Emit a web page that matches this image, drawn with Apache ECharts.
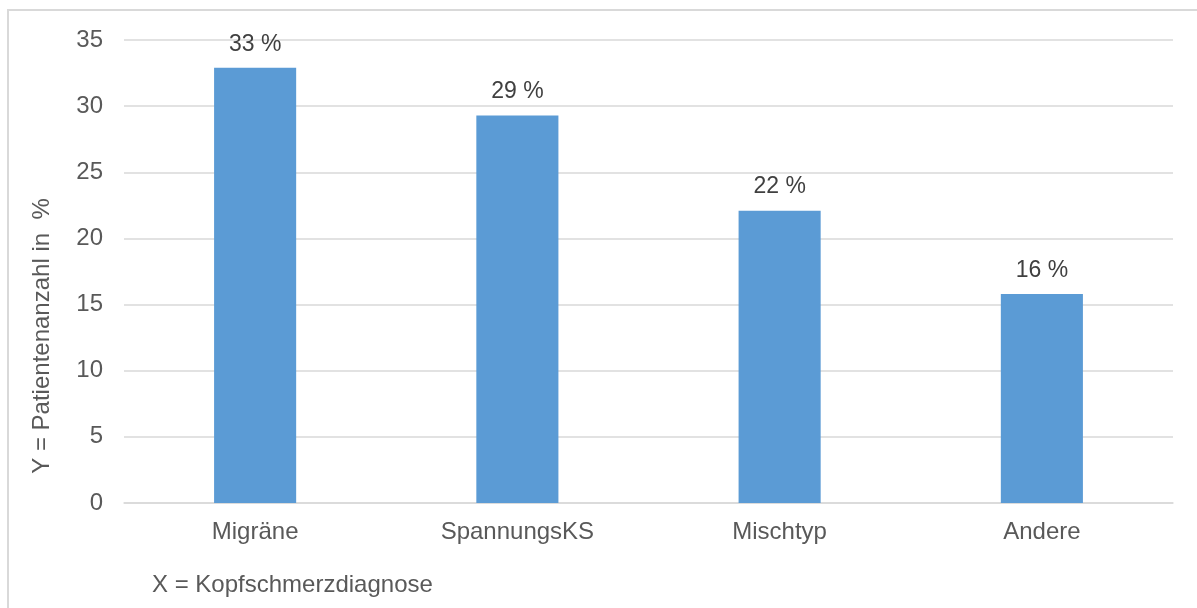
<!DOCTYPE html>
<html>
<head>
<meta charset="utf-8">
<script src="https://cdn.jsdelivr.net/npm/echarts@6/dist/echarts.min.js"></script>
<style>html,body{margin:0;padding:0;background:#fff;}#c{width:1197px;height:608px;}</style>
</head>
<body>
<div id="c"></div>
<script>
const categories = ['Migräne', 'SpannungsKS', 'Mischtyp', 'Andere'];
const values = [32.9, 29.3, 22.1, 15.8];
const yTicks = { min: 0, max: 35, interval: 5 };
const xTitle = 'X = Kopfschmerzdiagnose';
const yTitle = 'Y = Patientenanzahl in  %';

const font = 'Liberation Sans, Arial, sans-serif';
const txt = '#595959';
const chart = echarts.init(document.getElementById('c'), null, { renderer: 'canvas' });
chart.setOption({
  animation: false,
  backgroundColor: '#fff',
  grid: { left: 124, right: 24, top: 40, bottom: 105, containLabel: false },
  xAxis: {
    type: 'category',
    data: categories,
    axisLine: { show: true, lineStyle: { color: '#D9D9D9', width: 1.5 } },
    axisTick: { show: false },
    axisLabel: { color: txt, fontSize: 24, fontFamily: font, margin: 17 }
  },
  yAxis: {
    type: 'value',
    min: yTicks.min, max: yTicks.max, interval: yTicks.interval,
    axisLine: { show: false },
    axisTick: { show: false },
    splitLine: { lineStyle: { color: '#D9D9D9', width: 1.5 } },
    axisLabel: { color: txt, fontSize: 24, fontFamily: font, margin: 21 }
  },
  series: [{
    type: 'bar',
    data: values,
    barWidth: '31.3%',
    itemStyle: { color: '#5B9BD5' },
    label: {
      show: true, position: 'top', distance: 12,
      color: '#404040', fontSize: 23, fontFamily: font,
      formatter: p => Math.round(p.value) + ' %'
    }
  }],
  graphic: [
    { type: 'rect', shape: { x: 8, y: 10, width: 1200, height: 640 }, style: { fill: 'none', stroke: '#D9D9D9', lineWidth: 2 }, silent: true },
    { type: 'text', x: 42, y: 336, rotation: Math.PI / 2,
      style: { text: yTitle, fill: txt, fontSize: 24, fontFamily: font, align: 'center', verticalAlign: 'middle' } },
    { type: 'text', x: 152, y: 585,
      style: { text: xTitle, fill: txt, fontSize: 24, fontFamily: font, align: 'left', verticalAlign: 'middle' } }
  ]
});
</script>
</body>
</html>
